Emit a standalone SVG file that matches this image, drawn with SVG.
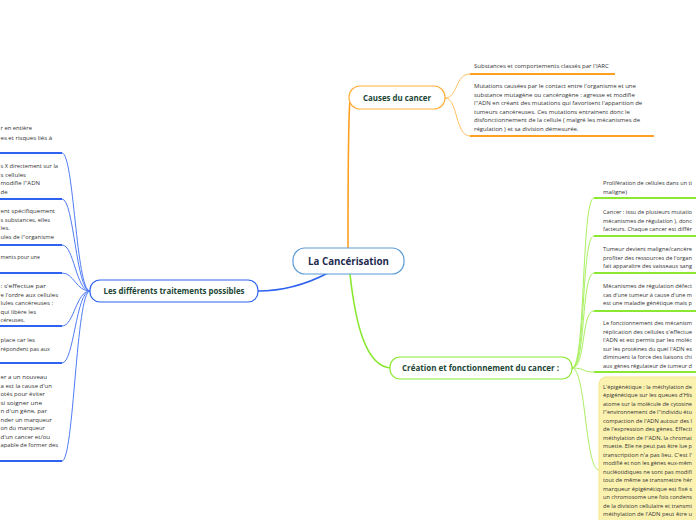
<svg xmlns="http://www.w3.org/2000/svg" width="696" height="520" viewBox="0 0 696 520">
<style>
.t{font-family:"Open Sans","DejaVu Sans",sans-serif;font-size:6px;fill:#333}
.r{font-size:5.5px}
.h{font-family:"Open Sans","DejaVu Sans",sans-serif;font-weight:bold;fill:#1b4535}
.cb{fill:none;stroke:#4f7cf5;stroke-width:1}
.co{fill:none;stroke:#ffc060;stroke-width:1}
.cg{fill:none;stroke:#a8f060;stroke-width:1}
.ub{stroke:#2e62f0;stroke-width:2}
.uo{stroke:#ffa020;stroke-width:2}
.ug{stroke:#8ae830;stroke-width:2}
</style>
<rect width="696" height="520" fill="#fff"/>
<g id="connectors">
<path d="M328,273 C305,285 280,291 258,291" fill="none" stroke="#2e62f0" stroke-width="1.6"/>
<path d="M348,248 C348,200 348,120 350,100" fill="none" stroke="#ffa020" stroke-width="1.6"/>
<path d="M350,274 C355,320 365,368 392,368" fill="none" stroke="#8ae830" stroke-width="1.6"/>
<path class="co" d="M445,98 C458,98 455,74 470,74"/>
<path class="co" d="M445,98 C458,98 455,136 470,136"/>
<path class="cb" d="M90,291 C76,291 74,153 62,153"/>
<path class="cb" d="M90,291 C76,291 74,199 62,199"/>
<path class="cb" d="M90,291 C76,291 74,245 62,245"/>
<path class="cb" d="M90,291 C76,291 74,273 62,273"/>
<path class="cb" d="M90,291 C76,291 74,326 62,326"/>
<path class="cb" d="M90,291 C76,291 74,363 62,363"/>
<path class="cb" d="M90,291 C76,291 74,461 62,461"/>
<path class="cg" d="M572,368 C586,368 581,198 594,198"/>
<path class="cg" d="M572,368 C586,368 581,236 594,236"/>
<path class="cg" d="M572,368 C586,368 581,273 594,273"/>
<path class="cg" d="M572,368 C586,368 581,311 594,311"/>
<path class="cg" d="M572,368 C586,368 581,372 594,372"/>
<path class="cg" d="M572,368 C586,368 585,470 599,470"/>
</g>
<g id="root">
<rect x="293" y="248" width="111" height="26" rx="12" fill="#fff" stroke="#5b9bd5" stroke-width="1.2"/>
<text x="348.5" y="265" text-anchor="middle" font-family="Open Sans,DejaVu Sans,sans-serif" font-weight="bold" font-size="10" fill="#1d2b4f" textLength="81" lengthAdjust="spacingAndGlyphs">La Cancérisation</text>
</g>
<g id="traitements">
<rect x="90" y="280" width="168" height="22" rx="10" fill="#fff" stroke="#2e62f0" stroke-width="1.2"/>
<text class="h" x="174" y="294" text-anchor="middle" font-size="8" textLength="141" lengthAdjust="spacingAndGlyphs">Les différents traitements possibles</text>
</g>
<g id="causes">
<rect x="349" y="86" width="96" height="23" rx="11" fill="#fff" stroke="#ffb040" stroke-width="1.2"/>
<text class="h" x="397" y="101" text-anchor="middle" font-size="8.5" textLength="68" lengthAdjust="spacingAndGlyphs">Causes du cancer</text>
</g>
<g id="creation">
<rect x="390" y="357" width="182" height="22" rx="10" fill="#fff" stroke="#8ae830" stroke-width="1.2"/>
<text class="h" x="480.5" y="371" text-anchor="middle" font-size="8.5" textLength="157" lengthAdjust="spacingAndGlyphs">Création et fonctionnement du cancer :</text>
</g>
<g id="cause-1">
<line class="uo" x1="470" y1="74" x2="615" y2="74"/>
<text class="t" x="474" y="68">Substances et comportements classés par l'IARC</text>
</g>
<g id="cause-2">
<line class="uo" x1="470" y1="136" x2="654" y2="136"/>
<text class="t" x="474" y="88">Mutations causées par le contact entre l'organisme et une</text>
<text class="t" x="474" y="96.5">substance mutagène ou cancérogène : agresse et modifie</text>
<text class="t" x="474" y="105">l''ADN en créant des mutations qui favorisent l'apparition de</text>
<text class="t" x="474" y="113.5">tumeurs cancéreuses. Ces mutations entrainent donc le</text>
<text class="t" x="474" y="122">disfonctionnement de la cellule ( malgré les mécanismes de</text>
<text class="t" x="474" y="130.5">régulation ) et sa division démesurée.</text>
</g>
<g id="trait-1">
<line class="ub" x1="0" y1="153" x2="62" y2="153"/>
<text class="t" x="0.5" y="130" textLength="31.5" lengthAdjust="spacingAndGlyphs">r en entière</text>
<text class="t" x="0.5" y="140" textLength="51.5" lengthAdjust="spacingAndGlyphs">es et risques liés à</text>
</g>
<g id="trait-2">
<line class="ub" x1="0" y1="199" x2="62" y2="199"/>
<text class="t" x="0.5" y="168" textLength="57.5" lengthAdjust="spacingAndGlyphs">s X directement sur la</text>
<text class="t" x="0.5" y="176.5" textLength="25.5" lengthAdjust="spacingAndGlyphs">s cellules</text>
<text class="t" x="0.5" y="185" textLength="39.5" lengthAdjust="spacingAndGlyphs">modifie l''ADN</text>
<text class="t" x="0.5" y="193.5">de</text>
</g>
<g id="trait-3">
<line class="ub" x1="0" y1="245" x2="62" y2="245"/>
<text class="t" x="0.5" y="213" textLength="54.5" lengthAdjust="spacingAndGlyphs">ent spécifiquement</text>
<text class="t" x="0.5" y="221.5" textLength="49.5" lengthAdjust="spacingAndGlyphs">s substances, elles</text>
<text class="t" x="0.5" y="230">les.</text>
<text class="t" x="0.5" y="238.5" textLength="53.5" lengthAdjust="spacingAndGlyphs">ules de l''organisme</text>
</g>
<g id="trait-4">
<line class="ub" x1="0" y1="273" x2="62" y2="273"/>
<text class="t" x="0.5" y="259" textLength="39.5" lengthAdjust="spacingAndGlyphs">ments pour une</text>
</g>
<g id="trait-5">
<line class="ub" x1="0" y1="326" x2="62" y2="326"/>
<text class="t" x="0.5" y="288" textLength="45.5" lengthAdjust="spacingAndGlyphs">: s'effectue par</text>
<text class="t" x="0.5" y="296.5" textLength="57.5" lengthAdjust="spacingAndGlyphs">e l'ordre aux cellules</text>
<text class="t" x="0.5" y="305" textLength="52.5" lengthAdjust="spacingAndGlyphs">lules cancéreuses :</text>
<text class="t" x="0.5" y="313.5" textLength="35.5" lengthAdjust="spacingAndGlyphs">qui libère les</text>
<text class="t" x="0.5" y="322" textLength="24.5" lengthAdjust="spacingAndGlyphs">céreuses.</text>
</g>
<g id="trait-6">
<line class="ub" x1="0" y1="363" x2="62" y2="363"/>
<text class="t" x="0.5" y="342" textLength="34.5" lengthAdjust="spacingAndGlyphs">place car les</text>
<text class="t" x="0.5" y="350.5" textLength="49.5" lengthAdjust="spacingAndGlyphs">répondent pas aux</text>
</g>
<g id="trait-7">
<line class="ub" x1="0" y1="461" x2="62" y2="461"/>
<text class="t" x="0.5" y="379" textLength="46.5" lengthAdjust="spacingAndGlyphs">er a un nouveau</text>
<text class="t" x="0.5" y="387.5" textLength="51.5" lengthAdjust="spacingAndGlyphs">a est la cause d'un</text>
<text class="t" x="0.5" y="396" textLength="44.5" lengthAdjust="spacingAndGlyphs">otés pour éviter</text>
<text class="t" x="0.5" y="404.5" textLength="41.5" lengthAdjust="spacingAndGlyphs">si soigner une</text>
<text class="t" x="0.5" y="413" textLength="46.5" lengthAdjust="spacingAndGlyphs">n d'un gène, par</text>
<text class="t" x="0.5" y="421.5" textLength="51.5" lengthAdjust="spacingAndGlyphs">nder un marqueur</text>
<text class="t" x="0.5" y="430" textLength="44.5" lengthAdjust="spacingAndGlyphs">on du marqueur</text>
<text class="t" x="0.5" y="438.5" textLength="49.5" lengthAdjust="spacingAndGlyphs">d'un cancer et/ou</text>
<text class="t" x="0.5" y="447" textLength="57.5" lengthAdjust="spacingAndGlyphs">apable de former des</text>
</g>
<g id="crea-1">
<line class="ug" x1="594" y1="198" x2="696" y2="198"/>
<text class="t r" x="603" y="185" textLength="89" lengthAdjust="spacingAndGlyphs">Prolifération de cellules dans un ti</text>
<text class="t" x="603" y="193.5">maligne)</text>
</g>
<g id="crea-2">
<line class="ug" x1="594" y1="236" x2="696" y2="236"/>
<text class="t r" x="603" y="214" textLength="89" lengthAdjust="spacingAndGlyphs">Cancer : issu de plusieurs mutatio</text>
<text class="t r" x="603" y="222.5" textLength="89" lengthAdjust="spacingAndGlyphs">mécanismes de régulation ), donc</text>
<text class="t r" x="603" y="231" textLength="89" lengthAdjust="spacingAndGlyphs">facteurs. Chaque cancer est différ</text>
</g>
<g id="crea-3">
<line class="ug" x1="594" y1="273" x2="696" y2="273"/>
<text class="t r" x="603" y="251" textLength="89" lengthAdjust="spacingAndGlyphs">Tumeur devient maligne/cancére</text>
<text class="t r" x="603" y="259.5" textLength="89" lengthAdjust="spacingAndGlyphs">profiter des ressources de l'organ</text>
<text class="t r" x="603" y="268" textLength="89" lengthAdjust="spacingAndGlyphs">fait apparaître des vaisseaux sang</text>
</g>
<g id="crea-4">
<line class="ug" x1="594" y1="311" x2="696" y2="311"/>
<text class="t r" x="603" y="288" textLength="89" lengthAdjust="spacingAndGlyphs">Mécanismes de régulation défect</text>
<text class="t r" x="603" y="296.5" textLength="89" lengthAdjust="spacingAndGlyphs">cas d'une tumeur à cause d'une m</text>
<text class="t r" x="603" y="305" textLength="89" lengthAdjust="spacingAndGlyphs">est une maladie génétique mais p</text>
</g>
<g id="crea-5">
<line class="ug" x1="594" y1="372" x2="696" y2="372"/>
<text class="t r" x="603" y="325" textLength="89" lengthAdjust="spacingAndGlyphs">Le fonctionnement des mécanism</text>
<text class="t r" x="603" y="333.5" textLength="89" lengthAdjust="spacingAndGlyphs">réplication des cellules s'effectue</text>
<text class="t r" x="603" y="342" textLength="89" lengthAdjust="spacingAndGlyphs">l'ADN et est permis par les moléc</text>
<text class="t r" x="603" y="350.5" textLength="89" lengthAdjust="spacingAndGlyphs">sur les protéines du quel l'ADN es</text>
<text class="t r" x="603" y="359" textLength="89" lengthAdjust="spacingAndGlyphs">diminuent la force des liaisons chi</text>
<text class="t r" x="603" y="367.5" textLength="89" lengthAdjust="spacingAndGlyphs">aux gènes régulateur de tumeur d</text>
</g>
<g id="crea-6">
<rect x="599" y="377" width="120" height="190" rx="7" fill="#fcf2b0" stroke="#f3e58a" stroke-width="1"/>
<text class="t r" x="603" y="388.5" textLength="89" lengthAdjust="spacingAndGlyphs">L'épigénétique : la méthylation de</text>
<text class="t r" x="603" y="397" textLength="89" lengthAdjust="spacingAndGlyphs">épigénétique sur les queues d'His</text>
<text class="t r" x="603" y="405.5" textLength="89" lengthAdjust="spacingAndGlyphs">atome sur la molécule de cytosine</text>
<text class="t r" x="603" y="414" textLength="89" lengthAdjust="spacingAndGlyphs">l''environnement de l''individu étu</text>
<text class="t r" x="603" y="422.5" textLength="89" lengthAdjust="spacingAndGlyphs">compaction de l'ADN autour des l</text>
<text class="t r" x="603" y="431" textLength="89" lengthAdjust="spacingAndGlyphs">de l'expression des gènes. Effecti</text>
<text class="t r" x="603" y="439.5" textLength="89" lengthAdjust="spacingAndGlyphs">méthylation de l''ADN, la chromat</text>
<text class="t r" x="603" y="448" textLength="89" lengthAdjust="spacingAndGlyphs">muette. Elle ne peut pas être lue p</text>
<text class="t r" x="603" y="456.5" textLength="89" lengthAdjust="spacingAndGlyphs">transcription n'a pas lieu. C'est l'</text>
<text class="t r" x="603" y="465" textLength="89" lengthAdjust="spacingAndGlyphs">modifié et non les gènes eux-mêm</text>
<text class="t r" x="603" y="473.5" textLength="89" lengthAdjust="spacingAndGlyphs">nucléotidiques ne sont pas modifi</text>
<text class="t r" x="603" y="482" textLength="89" lengthAdjust="spacingAndGlyphs">tout de même se transmettre hér</text>
<text class="t r" x="603" y="490.5" textLength="89" lengthAdjust="spacingAndGlyphs">marqueur épigénétique est fixé s</text>
<text class="t r" x="603" y="499" textLength="89" lengthAdjust="spacingAndGlyphs">un chromosome une fois condens</text>
<text class="t r" x="603" y="507.5" textLength="89" lengthAdjust="spacingAndGlyphs">de la division cellulaire et transmi</text>
<text class="t r" x="603" y="516" textLength="89" lengthAdjust="spacingAndGlyphs">méthylation de l'ADN peut être u</text>
</g>
</svg>
